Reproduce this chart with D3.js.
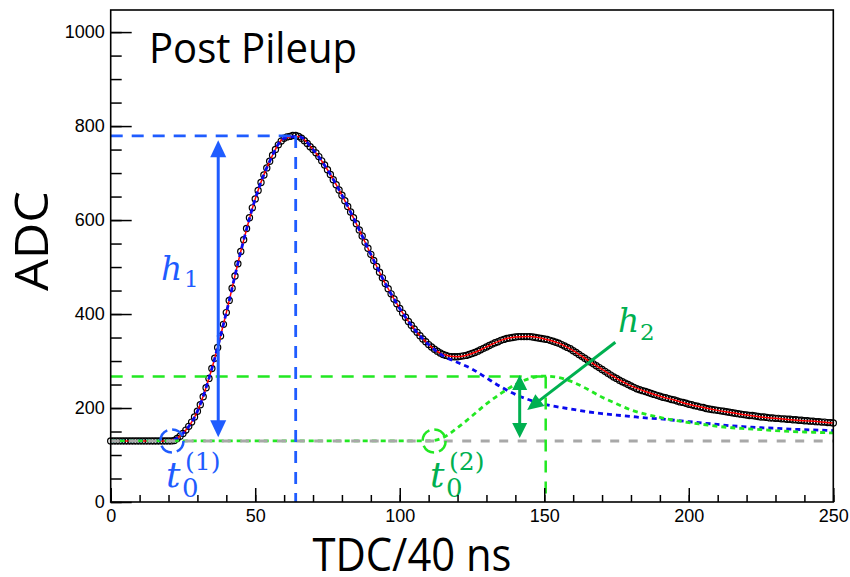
<!DOCTYPE html>
<html><head><meta charset="utf-8">
<script src="https://cdn.jsdelivr.net/npm/d3@7"></script>
<style>body{margin:0;background:#fff}svg{display:block}</style>
</head><body>
<svg id="c" width="850" height="577"></svg>
<script>
// ---- data ----
// ADC samples, one per TDC bin 0..250
const adcSamples = [
 130,130,130,130,130,130,130,130,130,130,
 130,130,130,130,130,130,130,130,130,130,
 130,130,131,135,140,146,153,161,170,181,
 193,207,224,243,263,284,306,329,353,378,
 403,429,455,481,507,533,558,582,605,626,
 645,663,680,696,711,725,738,750,760,768,
 774,777,778,780,780,778,774,769,763,756,
 750,743,735,726,717,707,697,686,675,664,
 653,641,629,617,605,592,579,566,553,540,
 527,514,501,489,477,465,454,443,432,422,
 412,402,393,384,376,368,361,354,347,341,
 335,330,325,321,317,314,312,310,309,309,
 309,310,311,312,314,316,318,321,324,327,
 330,333,336,339,341,344,346,348,349,350,
 351,352,352,352,352,352,351,350,349,348,
 347,346,344,342,340,338,335,332,329,326,
 322,318,314,310,306,302,298,294,290,286,
 282,278,274,270,266,263,259,256,253,250,
 247,244,241,239,237,235,233,231,229,227,
 225,223,222,220,218,217,215,213,212,210,
 208,207,205,204,202,201,199,198,197,196,
 195,194,193,192,191,190,189,188,187,186,
 185,184,184,183,182,181,181,180,179,179,
 178,178,177,177,176,176,175,175,174,174,
 173,173,172,172,171,171,170,170,169,169,
 168];
// fit curves sampled every 5 TDC (0,5,...,250)
const fitTotal = [130,130,130,130,130,146,193,284,403,533,645,725,774,778,750,707,653,592,527,465,
 412,368,335,314,309,316,330,344,351,352,347,338,322,302,282,263,247,235,225,217,
 208,201,195,190,185,181,178,175,173,171,168];
const fitPulse1 = [130,130,130,130,130,146,193,284,403,533,645,725,774,778,750,707,653,592,527,465,
 412,368,335,311,297,283,264,245,229,217,208,202,197,192,188,185,182,179,177,174,
 171,168,165,162,160,158,157,155,154,153,152];
const fitPulse2 = [130,130,130,130,130,130,130,130,130,130,130,130,130,130,130,130,130,130,130,130,
 130,130,130,137,158,183,209,231,250,263,268,265,255,240,223,209,196,187,180,174,
 169,165,161,158,156,154,152,150,149,148,147];
const fitStep = 5;
const baseline = 130;
const peak1 = {t: 64, adc: 779};
const peak2 = {t: 150.5, adc: 267};
const h1Arrow = {t: 37.2, top: 770, bottom: 138};
const h2Arrow = {t: 141.5, top: 270, bottom: 136};
const h2Pointer = {t0: 174.6, a0: 340, t1: 144.1, a1: 196};
const t0First = 21.2, t0Second = 111.9;
const xMajor = [0,50,100,150,200,250];
const yMajor = [0,200,400,600,800,1000];

// ---- layout ----
const svg = d3.select('#c');
const L = 110.7, R = 833.3, T = 10, B = 502;
const x = d3.scaleLinear([0,250],[L,R]);
const y = d3.scaleLinear([0,1047],[B,T]);

const BLUE = '#1f5cff', BLUE_D = '#0a0aee', GREEN = '#00b050', GREEN_L = '#22e822';

// data markers
svg.append('g').selectAll('circle').data(adcSamples).join('circle')
  .attr('cx',(d,i)=>x(i)).attr('cy',d=>y(d)).attr('r',3.1)
  .attr('fill','none').attr('stroke','#000').attr('stroke-width',1.2);

const fitLine = d3.line().x((d,i)=>x(i*fitStep)).y(d=>y(d)).curve(d3.curveMonotoneX);
svg.append('path').attr('d',fitLine(fitTotal)).attr('fill','none').attr('stroke','#ff0000').attr('stroke-width',1.5);

svg.append('path').attr('d',fitLine(fitPulse1)).attr('fill','none').attr('stroke',BLUE_D)
  .attr('stroke-width',2.8).attr('stroke-dasharray','5,4');
svg.append('path').attr('d',fitLine(fitPulse2)).attr('fill','none').attr('stroke',GREEN_L)
  .attr('stroke-width',2.8).attr('stroke-dasharray','5,4');

// baseline
svg.append('line').attr('x1',x(0)).attr('x2',x(250)).attr('y1',y(baseline)).attr('y2',y(baseline))
  .attr('stroke','#a8a8a8').attr('stroke-width',3).attr('stroke-dasharray','9,9.5');

// guides
function dashed(x1,y1,x2,y2,c,w){
  svg.append('line').attr('x1',x1).attr('y1',y1).attr('x2',x2).attr('y2',y2)
   .attr('stroke',c).attr('stroke-width',w).attr('stroke-dasharray','12,9');
}
dashed(x(0),y(peak1.adc),x(peak1.t),y(peak1.adc),BLUE,2.8);
dashed(x(peak1.t),y(peak1.adc),x(peak1.t),y(0),BLUE,2.8);
dashed(x(0),y(peak2.adc),x(peak2.t),y(peak2.adc),GREEN_L,2.5);
dashed(x(peak2.t),y(peak2.adc),x(peak2.t),y(0),GREEN_L,2.5);

// arrows
function head(px,py,ang,len,wid,c){
  const bx = px - len*Math.cos(ang), by = py - len*Math.sin(ang);
  const nx = -Math.sin(ang)*wid/2, ny = Math.cos(ang)*wid/2;
  svg.append('path').attr('d',`M${px},${py}L${bx+nx},${by+ny}L${bx-nx},${by-ny}Z`).attr('fill',c);
}
function arrow(x1,y1,x2,y2,c,both,len,wid){
  const ang = Math.atan2(y2-y1,x2-x1);
  const sx = both? x1+ (len-2)*Math.cos(ang):x1, sy = both? y1+(len-2)*Math.sin(ang):y1;
  svg.append('line').attr('x1',sx).attr('y1',sy)
    .attr('x2',x2-(len-2)*Math.cos(ang)).attr('y2',y2-(len-2)*Math.sin(ang))
    .attr('stroke',c).attr('stroke-width',3);
  head(x2,y2,ang,len,wid,c);
  if(both) head(x1,y1,ang+Math.PI,len,wid,c);
}
arrow(x(h1Arrow.t),y(h1Arrow.top),x(h1Arrow.t),y(h1Arrow.bottom),BLUE,true,17,16);
arrow(x(h2Arrow.t),y(h2Arrow.top),x(h2Arrow.t),y(h2Arrow.bottom),GREEN,true,15,15);
arrow(x(h2Pointer.t0),y(h2Pointer.a0),x(h2Pointer.t1),y(h2Pointer.a1),GREEN,false,16,15);

// dashed circles at t0
svg.append('circle').attr('cx',x(t0First)).attr('cy',y(baseline)).attr('r',11.5)
  .attr('fill','none').attr('stroke',BLUE).attr('stroke-width',2.5).attr('stroke-dasharray','13,5');
svg.append('circle').attr('cx',x(t0Second)).attr('cy',y(baseline)).attr('r',11.5)
  .attr('fill','none').attr('stroke',GREEN_L).attr('stroke-width',2.5).attr('stroke-dasharray','13,5');

// math labels
const MF = '"DejaVu Serif", serif';
function mathLabel(xp,yp,main,c,mainSize){
  const g = svg.append('g').attr('fill',c).attr('font-family',MF);
  g.append('text').attr('x',xp).attr('y',yp).attr('font-style','italic').attr('font-size',mainSize).text(main);
  return g;
}
let g1 = mathLabel(161,280,'h',BLUE,33);
g1.append('text').attr('x',184).attr('y',287).attr('font-size',23).text('1');
let g2 = mathLabel(618,332,'h',GREEN,33);
g2.append('text').attr('x',640).attr('y',340).attr('font-size',23).text('2');
let g3 = mathLabel(166,487,'t',BLUE,36);
g3.append('text').attr('x',182).attr('y',497).attr('font-size',26).text('0');
g3.append('text').attr('x',185).attr('y',470).attr('font-size',25).text('(1)');
let g4 = mathLabel(430,487,'t',GREEN,36);
g4.append('text').attr('x',446).attr('y',497).attr('font-size',26).text('0');
g4.append('text').attr('x',449).attr('y',470).attr('font-size',25).text('(2)');

// axes
const TF = '"Liberation Sans", Arial, sans-serif';
const yAxis = d3.axisLeft(y).tickValues(yMajor).tickSize(-21).tickPadding(6).tickFormat(d3.format('d'));
const yMinor = d3.axisLeft(y).tickValues(d3.range(0,1047,50)).tickSize(-11).tickFormat('');
const xAxis = d3.axisBottom(x).tickValues(xMajor).tickSize(-14).tickPadding(7).tickFormat(d3.format('d'));
const xMinor = d3.axisBottom(x).tickValues(d3.range(0,251,10)).tickSize(-7).tickFormat('');
function styleAxis(g){
  g.select('.domain').remove();
  g.selectAll('line').attr('stroke','#000').attr('stroke-width',1.5);
  g.selectAll('text').attr('font-family',TF).attr('font-size',18).attr('fill','#000');
}
svg.append('g').attr('transform',`translate(${L},0)`).call(yMinor).call(styleAxis);
svg.append('g').attr('transform',`translate(${L},0)`).call(yAxis).call(styleAxis);
svg.append('g').attr('transform',`translate(0,${B})`).call(xMinor).call(styleAxis);
svg.append('g').attr('transform',`translate(0,${B})`).call(xAxis).call(styleAxis);

// frame
svg.append('rect').attr('x',L).attr('y',T).attr('width',R-L).attr('height',B-T)
  .attr('fill','none').attr('stroke','#000').attr('stroke-width',1.6);

// titles
const SF = '"Open Sans", sans-serif';
svg.append('text').attr('x',149).attr('y',63).attr('font-family',SF).attr('font-size',42)
  .attr('textLength',208).attr('lengthAdjust','spacingAndGlyphs').text('Post Pileup');
svg.append('text').attr('transform','translate(48,241) rotate(-90)').attr('text-anchor','middle')
  .attr('font-family',SF).attr('font-size',46).attr('textLength',100).attr('lengthAdjust','spacingAndGlyphs').text('ADC');
svg.append('text').attr('x',412).attr('y',571).attr('text-anchor','middle')
  .attr('font-family',SF).attr('font-size',45).attr('textLength',199).attr('lengthAdjust','spacingAndGlyphs').text('TDC/40 ns');
</script>
</body></html>
